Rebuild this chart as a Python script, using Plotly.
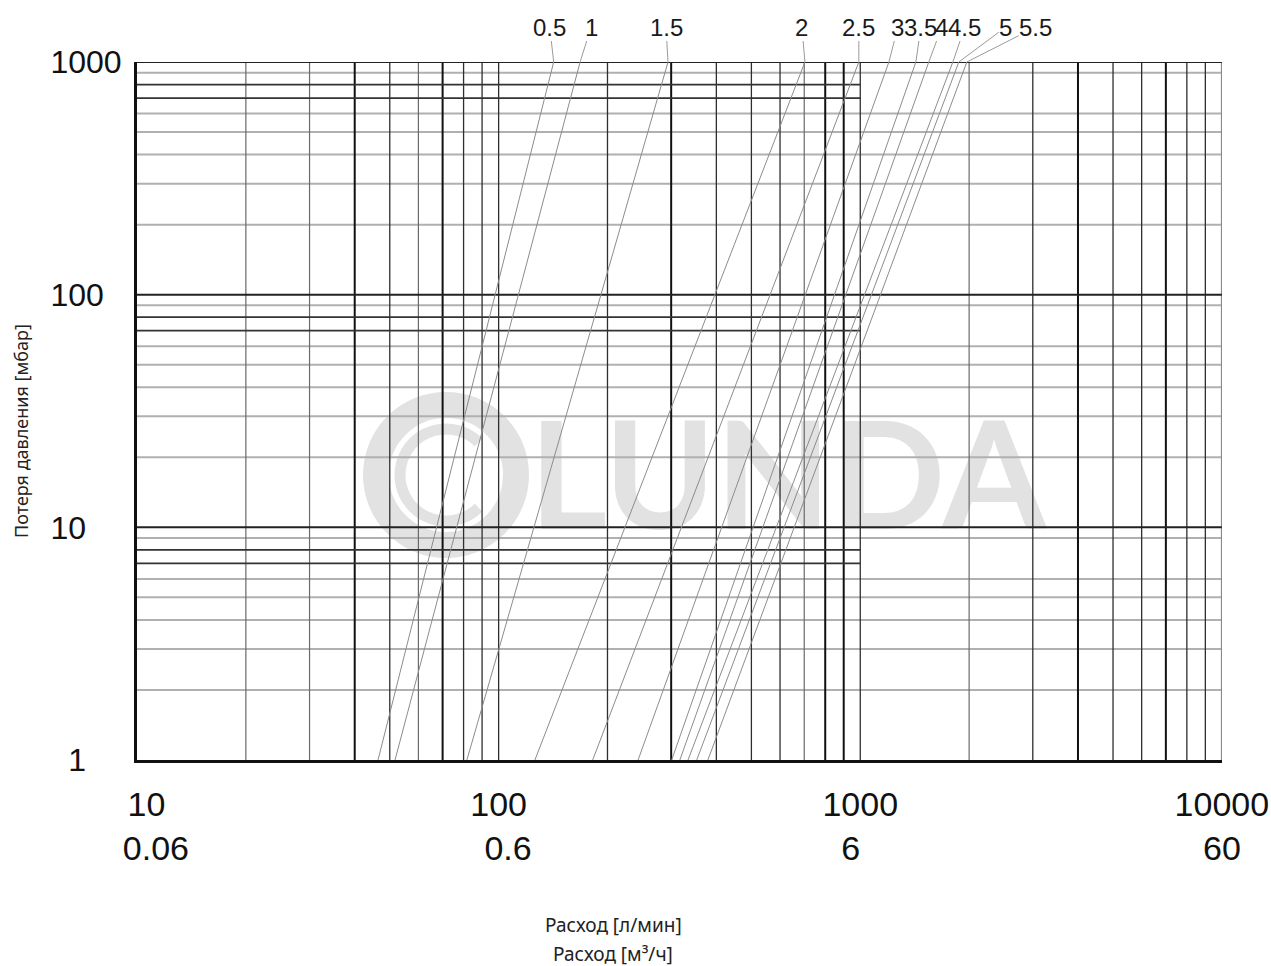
import math
import plotly.graph_objects as go

# ---------------- data ----------------
series_labels = ["0.5", "1", "1.5", "2", "2.5", "3", "3.5", "4", "4.5", "5", "5.5"]
# flow [l/min] where each characteristic crosses 1 mbar and 1000 mbar
flow_at_1mbar = [46.4, 51.7, 81.7, 126, 182, 243, 301, 317, 334, 353, 379]
flow_at_1000mbar = [142, 168, 294, 703, 991, 1200, 1425, 1547, 1803, 1873, 1971]
pressure_ends = [1, 1000]

x_tick_vals = [10, 100, 1000, 10000]
x_tick_lpm = ["10", "100", "1000", "10000"]
x_tick_m3h = ["0.06", "0.6", "6", "60"]
y_tick_vals = [1, 10, 100, 1000]
y_tick_text = ["1", "10", "100", "1000"]

# ---------------- styling ----------------
label_dx = [-4, 11, -2, -3, 0, 9, 5, 13, 12, 47, 69]   # px offset of the top labels
DIGITS = "Liberation Sans, Arial, sans-serif"
TITLE_FONT = "Noto Sans, Open Sans, sans-serif"
NB = "\u00a0"

fig = go.Figure()

# watermark text (drawn first, below the grid)
fig.add_trace(go.Scatter(
    x=[630], y=[14.2], mode="text", text=["LUNDA"], textposition="middle center",
    textfont=dict(family="Lato, Inter, sans-serif", size=150, color="#e2e2e2", weight=700),
    hoverinfo="skip", showlegend=False, cliponaxis=False))


def lines_trace(xs_list, ys_list, color, width):
    xs, ys = [], []
    for a, b in zip(xs_list, ys_list):
        xs += [a[0], a[1], None]
        ys += [b[0], b[1], None]
    return go.Scatter(x=xs, y=ys, mode="lines", line=dict(color=color, width=width),
                      hoverinfo="skip", showlegend=False)


# horizontal grid
gray_h, dark_h_full, dark_h_short = [], [], []
for k in range(0, 3):
    for m in range(2, 10):
        v = m * 10 ** k
        if m in (7, 8):
            dark_h_short.append(v)
        else:
            gray_h.append(v)
    dark_h_full.append(10 ** (k + 1))

fig.add_trace(lines_trace([(10, 10000)] * len(gray_h), [(v, v) for v in gray_h], "#b0b0b0", 2))

# vertical grid
heavy_x = [40, 70, 300, 800, 900, 4000, 7000]
light_x = [20, 30, 60, 700, 2000]
normal_x = []
for k in range(1, 4):
    for m in range(1, 10):
        v = m * 10 ** k
        if v == 10:
            continue
        if v in heavy_x or v in light_x:
            continue
        normal_x.append(v)
fig.add_trace(lines_trace([(v, v) for v in light_x], [(1, 1000)] * len(light_x), "#6a6a6a", 1.2))
fig.add_trace(lines_trace([(v, v) for v in normal_x], [(1, 1000)] * len(normal_x), "#2e2e2e", 1.3))
fig.add_trace(lines_trace([(v, v) for v in heavy_x], [(1, 1000)] * len(heavy_x), "#111111", 2.0))
fig.add_trace(lines_trace([(10000, 10000)], [(1, 1000)], "#8a8a8a", 2))

fig.add_trace(lines_trace([(10, 1000)] * len(dark_h_short), [(v, v) for v in dark_h_short], "#333333", 1.8))
fig.add_trace(lines_trace([(10, 10000)] * len(dark_h_full), [(v, v) for v in dark_h_full], "#222222", 2.0))

# characteristic lines
for lab, q1, q2 in zip(series_labels, flow_at_1mbar, flow_at_1000mbar):
    fig.add_trace(go.Scatter(x=[q1, q2], y=pressure_ends, mode="lines", name=lab,
                             line=dict(color="#8c8c8c", width=1), showlegend=False,
                             hoverinfo="name"))

# labels at the top with leader lines
annotations = []
for lab, q2, dx in zip(series_labels, flow_at_1000mbar, label_dx):
    annotations.append(dict(
        x=math.log10(q2), y=3, xref="x", yref="y", text=lab,
        showarrow=True, arrowhead=0, arrowwidth=1, arrowcolor="#9a9a9a",
        ax=dx, ay=-35, standoff=0, borderpad=0,
        font=dict(family=DIGITS, size=24, color="#1a1a1a")))

# axis titles
annotations.append(dict(x=(613 - 137) / 1085, y=(760 - 925) / 698, xref="paper", yref="paper",
                        xanchor="center", yanchor="middle",
                        text="Расход [л/мин]", showarrow=False,
                        font=dict(family=TITLE_FONT, size=19, color="#222222")))
annotations.append(dict(x=(613 - 137) / 1085, y=(760 - 954) / 698, xref="paper", yref="paper",
                        xanchor="center", yanchor="middle",
                        text="Расход [м³/ч]", showarrow=False,
                        font=dict(family=TITLE_FONT, size=19, color="#222222")))
annotations.append(dict(x=(21 - 137) / 1085, y=(760 - 431) / 698, xref="paper", yref="paper",
                        xanchor="center", yanchor="middle",
                        text="Потеря давления [мбар]", showarrow=False, textangle=-90,
                        font=dict(family=TITLE_FONT, size=18, color="#222222")))

# logo rings of the watermark
cx, cy = (446 - 137) / 1085, (760 - 475) / 698
shapes = [dict(type="circle", xref="paper", yref="paper", xsizemode="pixel", ysizemode="pixel",
               xanchor=cx, yanchor=cy, x0=-70, x1=70, y0=-70, y1=70,
               line=dict(color="#e2e2e2", width=26), layer="below")]
pts = []
for i in range(0, 61):
    ang = math.radians(45 + i * 270 / 60)
    pts.append((46 * math.cos(ang), 46 * math.sin(ang)))
path = "M " + " L ".join(f"{px:.2f},{py:.2f}" for px, py in pts)
shapes.append(dict(type="path", xref="paper", yref="paper", xsizemode="pixel", ysizemode="pixel",
                   xanchor=cx, yanchor=cy, path=path,
                   line=dict(color="#e2e2e2", width=11), layer="below"))

x_ticktext = [
    NB * 2 + x_tick_lpm[0] + "<br>" + NB * 4 + x_tick_m3h[0],
    x_tick_lpm[1] + "<br>" + NB * 2 + x_tick_m3h[1],
    x_tick_lpm[2] + "<br>" + x_tick_m3h[2] + NB * 2,
    x_tick_lpm[3] + "<br>" + x_tick_m3h[3],
]
y_pad = [4, 4, 2, 0]
y_ticktext = [t + NB * p for t, p in zip(y_tick_text, y_pad)]

fig.update_layout(
    width=1271, height=966,
    margin=dict(l=137, r=49, t=62, b=206, autoexpand=False),
    paper_bgcolor="white", plot_bgcolor="white",
    showlegend=False,
    annotations=annotations,
    shapes=shapes,
    xaxis=dict(type="log", range=[1, 4.0003], showgrid=False, zeroline=False,
               tickvals=x_tick_vals, ticktext=x_ticktext, ticks="", automargin=False,
               tickfont=dict(family=DIGITS, size=34, color="#111111"),
               ticklabeloverflow="allow",
               showline=True, linecolor="#111111", linewidth=3, ticklabelstandoff=12),
    yaxis=dict(type="log", range=[0, 3], showgrid=False, zeroline=False,
               tickvals=y_tick_vals, ticktext=y_ticktext, ticks="", automargin=False,
               tickfont=dict(family=DIGITS, size=32, color="#111111"),
               ticklabeloverflow="allow",
               showline=True, linecolor="#111111", linewidth=3, ticklabelstandoff=6),
)

# remove the default page margin / scrollbars so the 1271x966 figure fills the window exactly
fig.write_html("out.html",
               config={"displayModeBar": False},
               post_script="document.body.style.margin='0';"
                           "document.body.style.overflow='hidden';"
                           "document.documentElement.style.overflow='hidden';")
